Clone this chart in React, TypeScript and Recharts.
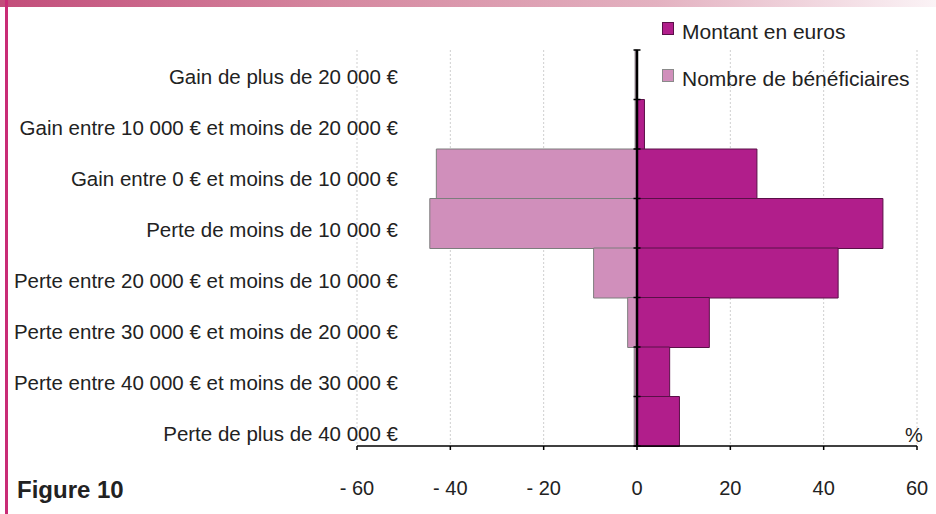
import React from 'react';
import { BarChart, Bar, XAxis, YAxis, CartesianGrid, ReferenceLine, Legend } from 'recharts';

const categories = [
  'Gain de plus de 20 000 €',
  'Gain entre 10 000 € et moins de 20 000 €',
  'Gain entre 0 € et moins de 10 000 €',
  'Perte de moins de 10 000 €',
  'Perte entre 20 000 € et moins de 10 000 €',
  'Perte entre 30 000 € et moins de 20 000 €',
  'Perte entre 40 000 € et moins de 30 000 €',
  'Perte de plus de 40 000 €',
];
const montantEuros = [0.1, 1.6, 25.7, 52.7, 43.1, 15.5, 7.0, 9.1];
const nombreBeneficiaires = [-0.4, -0.4, -43.0, -44.4, -9.3, -2.0, -0.6, -0.6];
const xTicks = [-60, -40, -20, 0, 20, 40, 60];

const data = categories.map((cat, i) => ({
  cat,
  montant: montantEuros[i],
  nombre: nombreBeneficiaires[i],
}));

const FONT = '"Liberation Sans", Arial, sans-serif';
const DARK = '#5a1048';
const LIGHT = '#d08fbb';
const MAG = '#b11e8b';

const fmt = (v: number) => (v < 0 ? '- ' + Math.abs(v) : String(v));

const renderCatTick = (props: any) => {
  const { x, y, payload, index } = props;
  const i = typeof index === 'number' ? index : categories.indexOf(payload && payload.value);
  const shift = 1.5 + Math.max(0, i) * 1.6;
  const bx = Number(x);
  const by = Number(y);
  return (
    <text
      key={'t' + i}
      x={bx + 41}
      y={by + shift}
      dy="0.36em"
      textAnchor="end"
      fontSize={20.5}
      fill="#222"
      fontFamily={FONT}
    >
      {payload ? payload.value : ''}
    </text>
  );
};

const ZeroAxis = (props: any) => {
  const { x1, y1, x2, y2 } = props;
  const n = categories.length;
  const marks = [];
  for (let i = 0; i <= n; i++) {
    const yy = y1 + ((y2 - y1) * i) / n;
    marks.push(<line key={i} x1={x1 - 3.5} x2={x1 + 3.5} y1={yy} y2={yy} stroke="#000" strokeWidth={1.5} />);
  }
  return (
    <g>
      <line x1={x1} y1={y1} x2={x2} y2={y2} stroke="#000" strokeWidth={2.5} />
      {marks}
    </g>
  );
};

const LegendContent = (props: any) => {
  const { payload } = props;
  return (
    <div style={{ fontFamily: FONT, fontSize: 21, color: '#222', textAlign: 'left' }}>
      {(payload || []).map((p: any, i: number) => (
        <div key={i} style={{ display: 'flex', alignItems: 'flex-start', height: 22, marginBottom: i === 0 ? 25 : 0 }}>
          <span
            style={{
              display: 'inline-block',
              width: 10,
              height: 11,
              background: p.color,
              border: '1px solid ' + (i === 0 ? DARK : '#8a8a8a'),
              marginRight: 8,
              marginTop: 1,
            }}
          />
          <span style={{ lineHeight: '22px' }}>{p.value}</span>
        </div>
      ))}
    </div>
  );
};

export default function App() {
  return (
    <div style={{ position: 'absolute', left: 0, top: 0, width: 936, height: 514, background: '#fff', overflow: 'hidden' }}>
      <div
        style={{
          position: 'absolute',
          left: 0,
          top: 0,
          width: 936,
          height: 7,
          background: 'linear-gradient(to right, #c24d7a 0%, #d5879f 35%, #e3b1c0 70%, #fbf3f6 100%)',
        }}
      />
      <div style={{ position: 'absolute', left: 5, top: 0, width: 3, height: 514, background: '#c92c76' }} />
      <BarChart
        width={936}
        height={514}
        data={data}
        layout="vertical"
        stackOffset="sign"
        barCategoryGap={0}
        margin={{ top: 50, right: 19, bottom: 0, left: 297 }}
      >
        <CartesianGrid horizontal={false} vertical={true} stroke="#cfcfcf" strokeDasharray="2 2" />
        <XAxis
          type="number"
          domain={[-60, 60]}
          ticks={xTicks}
          tickFormatter={fmt}
          axisLine={{ stroke: '#000', strokeWidth: 1.5 }}
          tickLine={{ stroke: '#000', strokeWidth: 1.5 }}
          tickSize={4}
          tickMargin={31}
          tick={{ fontSize: 20, fill: '#222', fontFamily: FONT }}
          height={68}
          interval={0}
        />
        <YAxis
          type="category"
          dataKey="cat"
          width={60}
          axisLine={false}
          tickLine={false}
          tickSize={0}
          tickMargin={0}
          tick={renderCatTick}
          interval={0}
        />
        <Legend
          layout="vertical"
          verticalAlign="middle"
          align="center"
          content={<LegendContent />}
          wrapperStyle={{ position: 'absolute', left: 662, top: 21, width: 272 }}
        />
        <Bar
          dataKey="montant"
          name="Montant en euros"
          stackId="s"
          fill={MAG}
          stroke={DARK}
          strokeWidth={1}
          isAnimationActive={false}
        />
        <Bar
          dataKey="nombre"
          name="Nombre de bénéficiaires"
          stackId="s"
          fill={LIGHT}
          stroke="#7d7d7d"
          strokeWidth={1}
          isAnimationActive={false}
        />
        <ReferenceLine x={0} stroke="#000" strokeWidth={2.5} ifOverflow="visible" shape={<ZeroAxis />} />
      </BarChart>
      <div style={{ position: 'absolute', left: 905, top: 424, fontFamily: FONT, fontSize: 20, color: '#222' }}>%</div>
      <div style={{ position: 'absolute', left: 17, top: 476, fontFamily: FONT, fontSize: 24, fontWeight: 'bold', color: '#222' }}>
        Figure 10
      </div>
    </div>
  );
}
